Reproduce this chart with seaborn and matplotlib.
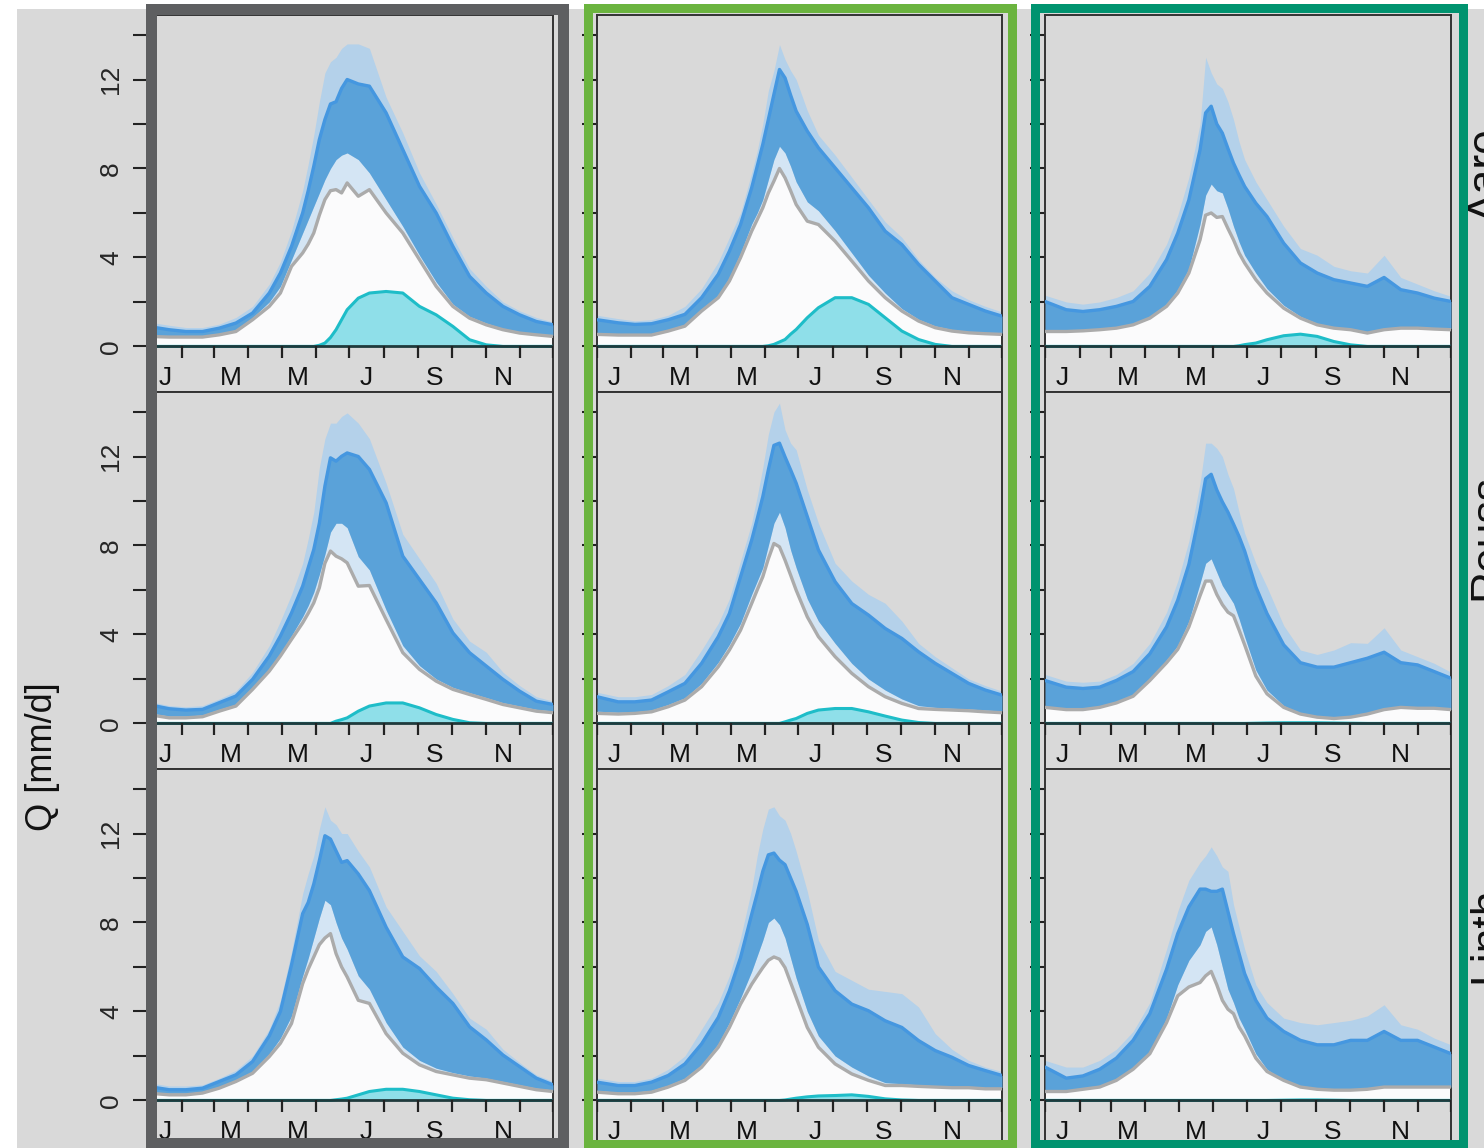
import numpy as np
import pandas as pd
import matplotlib
matplotlib.use("Agg")
import matplotlib.pyplot as plt
from matplotlib.patches import Rectangle
import seaborn as sns

# day of year grid shared by all panels
days = [1, 20, 35, 50, 65, 80, 95, 110, 120, 130, 140, 145, 150, 155, 160, 165,
        170, 175, 180, 190, 200, 215, 230, 245, 260, 275, 290, 305, 320, 335, 350, 365]

month_starts = [1, 32, 60, 91, 121, 152, 182, 213, 244, 274, 305, 335, 365]
month_mid = [16, 75, 136, 197, 259, 320]
month_labels = ["J", "M", "M", "J", "S", "N"]
rivers = ["Aare", "Reuss", "Linth"]
y_ticks = [0, 2, 4, 6, 8, 10, 12, 14]
y_ticklabels = ["0", "", "4", "", "8", "", "12", ""]

# ---- Aare ----
aare1_top = [0.9, 0.75, 0.67, 0.67, 0.82, 1.05, 1.5, 2.4, 3.3, 4.5, 6.0, 7.0, 8.1, 9.3, 10.2, 10.9,
             11.0, 11.6, 12.0, 11.8, 11.7, 10.5, 8.85, 7.2, 6.0, 4.5, 3.15, 2.4, 1.8, 1.42, 1.12, 0.97]
aare1_max = [1.1, 0.95, 0.85, 0.85, 1.0, 1.3, 1.8, 2.8, 3.8, 5.2, 7.0, 8.2, 9.5, 11.0, 12.3, 12.8,
             13.0, 13.4, 13.6, 13.6, 13.4, 11.2, 9.6, 7.8, 6.4, 4.9, 3.5, 2.7, 2.0, 1.6, 1.3, 1.1]
aare1_lo = [0.5, 0.47, 0.47, 0.47, 0.57, 0.75, 1.3, 2.0, 2.7, 3.9, 5.1, 5.7, 6.3, 6.9, 7.5, 8.0,
            8.4, 8.6, 8.7, 8.4, 7.8, 6.6, 5.4, 4.1, 2.9, 1.9, 1.35, 1.05, 0.8, 0.65, 0.57, 0.5]
aare1_base = [0.45, 0.42, 0.42, 0.42, 0.52, 0.67, 1.2, 1.8, 2.4, 3.6, 4.2, 4.6, 5.1, 5.9, 6.6, 7.0,
              7.05, 6.9, 7.35, 6.75, 7.05, 6.0, 5.1, 3.9, 2.7, 1.8, 1.27, 0.97, 0.75, 0.6, 0.52, 0.45]
aare1_glac = [0, 0, 0, 0, 0, 0, 0, 0, 0, 0, 0, 0, 0, 0.05, 0.15, 0.4,
              0.75, 1.2, 1.65, 2.17, 2.4, 2.47, 2.4, 1.8, 1.42, 0.9, 0.3, 0.07, 0, 0, 0, 0]

aare2_top = [1.2, 1.06, 0.99, 1.02, 1.2, 1.44, 2.19, 3.24, 4.28, 5.48, 7.13, 8.1, 9.08, 10.2, 11.33, 12.45,
             12.07, 11.3, 10.58, 9.68, 8.93, 8.03, 7.13, 6.23, 5.18, 4.58, 3.69, 2.94, 2.19, 1.89, 1.59, 1.36]
aare2_max = [1.4, 1.25, 1.15, 1.2, 1.4, 1.8, 2.6, 3.8, 4.9, 6.0, 7.8, 8.8, 10.0, 11.5, 12.4, 13.57,
             12.9, 12.4, 12.0, 10.6, 9.5, 8.6, 7.6, 6.6, 5.6, 4.9, 3.9, 3.1, 2.5, 2.1, 1.8, 1.55]
aare2_lo = [0.6, 0.57, 0.57, 0.57, 0.75, 0.98, 1.67, 2.3, 3.1, 4.2, 5.5, 6.0, 6.6, 7.5, 8.4, 9.0,
            8.7, 8.1, 7.4, 6.5, 6.1, 5.2, 4.2, 3.2, 2.4, 1.7, 1.22, 0.92, 0.76, 0.67, 0.63, 0.6]
aare2_base = [0.54, 0.51, 0.51, 0.51, 0.69, 0.91, 1.59, 2.19, 2.94, 3.99, 5.18, 5.7, 6.23, 6.9, 7.43, 8.0,
              7.58, 7.0, 6.38, 5.63, 5.48, 4.73, 3.84, 2.94, 2.19, 1.59, 1.14, 0.84, 0.69, 0.61, 0.57, 0.54]
aare2_glac = [0, 0, 0, 0, 0, 0, 0, 0, 0, 0, 0, 0, 0, 0.03, 0.09, 0.2,
              0.31, 0.55, 0.76, 1.29, 1.74, 2.19, 2.19, 1.89, 1.29, 0.69, 0.31, 0.09, 0, 0, 0, 0]

aare3_top = [2.02, 1.65, 1.57, 1.65, 1.8, 2.02, 2.7, 3.9, 5.09, 6.59, 8.84, 10.5, 10.8, 10.0, 9.59, 8.9,
             8.24, 7.7, 7.19, 6.44, 5.84, 4.64, 3.75, 3.3, 3.0, 2.85, 2.7, 3.1, 2.55, 2.4, 2.17, 2.02]
aare3_max = [2.3, 2.0, 1.9, 2.0, 2.2, 2.5, 3.3, 4.6, 5.9, 7.6, 10.0, 13.0, 12.3, 11.8, 11.6, 11.0,
             10.2, 9.2, 8.4, 7.4, 6.6, 5.4, 4.4, 4.1, 3.6, 3.4, 3.3, 4.1, 3.1, 2.8, 2.5, 2.25]
aare3_lo = [0.72, 0.72, 0.75, 0.8, 0.87, 1.02, 1.35, 1.9, 2.55, 3.5, 5.5, 6.8, 7.3, 7.0, 6.9, 6.2,
            5.4, 4.7, 4.1, 3.3, 2.6, 1.85, 1.35, 1.03, 0.87, 0.8, 0.65, 0.8, 0.87, 0.87, 0.83, 0.8]
aare3_base = [0.67, 0.67, 0.7, 0.75, 0.82, 0.97, 1.27, 1.8, 2.4, 3.3, 4.79, 5.9, 6.0, 5.8, 5.84, 5.3,
              4.79, 4.2, 3.75, 3.0, 2.4, 1.72, 1.27, 0.97, 0.82, 0.75, 0.6, 0.75, 0.82, 0.82, 0.78, 0.75]
aare3_glac = [0, 0, 0, 0, 0, 0, 0, 0, 0, 0, 0, 0, 0, 0, 0, 0,
              0, 0.03, 0.08, 0.15, 0.3, 0.48, 0.55, 0.45, 0.22, 0.07, 0, 0, 0, 0, 0, 0]

# ---- Reuss ----
reuss1_top = [0.85, 0.66, 0.6, 0.63, 0.93, 1.23, 1.98, 3.03, 3.93, 4.97, 6.17, 7.0, 7.82, 9.0, 10.67, 11.94,
              11.79, 12.01, 12.16, 12.0, 11.42, 9.92, 7.52, 6.47, 5.42, 4.07, 3.18, 2.58, 1.98, 1.45, 1.0, 0.85]
reuss1_max = [1.0, 0.8, 0.75, 0.8, 1.1, 1.45, 2.3, 3.5, 4.6, 5.8, 7.2, 8.3, 9.5, 11.5, 12.8, 13.5,
              13.5, 13.8, 13.96, 13.5, 12.8, 10.8, 8.5, 7.4, 6.3, 4.7, 3.7, 3.2, 2.3, 1.7, 1.2, 1.0]
reuss1_lo = [0.48, 0.33, 0.33, 0.38, 0.63, 0.86, 1.62, 2.45, 3.15, 3.95, 4.8, 5.3, 5.9, 6.7, 7.6, 8.6,
             9.0, 9.0, 8.8, 7.5, 6.9, 5.1, 3.5, 2.6, 2.0, 1.62, 1.38, 1.16, 0.93, 0.78, 0.63, 0.56]
reuss1_base = [0.4, 0.25, 0.25, 0.3, 0.55, 0.78, 1.53, 2.35, 3.03, 3.78, 4.52, 4.95, 5.42, 6.1, 7.2, 7.75,
               7.52, 7.4, 7.22, 6.17, 6.2, 4.67, 3.18, 2.43, 1.9, 1.53, 1.3, 1.08, 0.85, 0.7, 0.55, 0.48]
reuss1_glac = [0, 0, 0, 0, 0, 0, 0, 0, 0, 0, 0, 0, 0, 0, 0, 0,
               0.1, 0.17, 0.25, 0.55, 0.78, 0.92, 0.92, 0.7, 0.4, 0.18, 0.03, 0, 0, 0, 0, 0]

reuss2_top = [1.2, 0.97, 0.97, 1.05, 1.42, 1.8, 2.7, 3.9, 4.94, 6.59, 8.24, 9.2, 10.19, 11.4, 12.5, 12.6,
              11.98, 11.4, 10.8, 9.3, 7.8, 6.37, 5.39, 4.87, 4.27, 3.82, 3.22, 2.7, 2.25, 1.8, 1.5, 1.27]
reuss2_max = [1.4, 1.2, 1.2, 1.3, 1.7, 2.2, 3.3, 4.5, 5.6, 7.3, 9.0, 10.2, 11.5, 13.0, 14.0, 14.4,
              13.2, 12.6, 12.3, 10.5, 9.0, 7.2, 6.4, 5.8, 5.4, 4.6, 3.6, 3.0, 2.5, 2.0, 1.7, 1.45]
reuss2_lo = [0.55, 0.5, 0.52, 0.6, 0.85, 1.15, 1.8, 2.75, 3.55, 4.5, 5.8, 6.4, 7.0, 8.0, 9.0, 9.5,
             8.8, 7.8, 7.0, 5.6, 4.6, 3.6, 2.7, 2.0, 1.5, 1.1, 0.8, 0.72, 0.68, 0.65, 0.6, 0.56]
reuss2_base = [0.45, 0.42, 0.45, 0.52, 0.75, 1.05, 1.65, 2.55, 3.3, 4.19, 5.39, 6.0, 6.59, 7.4, 8.09, 7.94,
               7.34, 6.67, 5.99, 4.79, 3.9, 3.0, 2.25, 1.65, 1.2, 0.9, 0.67, 0.63, 0.6, 0.57, 0.52, 0.48]
reuss2_glac = [0, 0, 0, 0, 0, 0, 0, 0, 0, 0, 0, 0, 0, 0, 0, 0,
               0.07, 0.15, 0.22, 0.45, 0.6, 0.67, 0.67, 0.52, 0.33, 0.15, 0.04, 0, 0, 0, 0, 0]

reuss3_top = [1.93, 1.63, 1.57, 1.63, 1.93, 2.33, 3.13, 4.34, 5.54, 7.15, 9.56, 11.0, 11.2, 10.5, 9.96, 9.5,
              8.96, 8.4, 7.75, 6.14, 4.94, 3.53, 2.73, 2.53, 2.53, 2.73, 2.93, 3.2, 2.73, 2.63, 2.33, 2.03]
reuss3_max = [2.2, 1.9, 1.85, 1.9, 2.2, 2.7, 3.6, 5.0, 6.4, 8.2, 10.8, 12.6, 12.6, 12.37, 12.0, 11.2,
              10.56, 9.5, 8.55, 7.2, 6.14, 4.4, 3.3, 3.1, 3.3, 3.63, 3.6, 4.3, 3.3, 3.0, 2.7, 2.3]
reuss3_lo = [0.72, 0.62, 0.62, 0.72, 0.92, 1.25, 2.0, 2.85, 3.5, 4.6, 6.3, 7.2, 7.4, 6.8, 6.2, 5.8,
             5.4, 4.7, 3.9, 2.4, 1.5, 0.8, 0.42, 0.28, 0.22, 0.28, 0.42, 0.62, 0.72, 0.68, 0.68, 0.62]
reuss3_base = [0.72, 0.62, 0.62, 0.72, 0.92, 1.22, 1.93, 2.73, 3.33, 4.34, 5.74, 6.4, 6.4, 5.8, 5.34, 5.0,
               4.84, 4.2, 3.53, 2.13, 1.33, 0.72, 0.42, 0.28, 0.22, 0.28, 0.42, 0.62, 0.72, 0.68, 0.68, 0.62]
reuss3_glac = [0, 0, 0, 0, 0, 0, 0, 0, 0, 0, 0, 0, 0, 0, 0, 0,
               0, 0, 0, 0.01, 0.02, 0.03, 0.03, 0.03, 0.02, 0.01, 0, 0, 0, 0, 0, 0]

# ---- Linth ----
linth1_top = [0.63, 0.48, 0.48, 0.55, 0.85, 1.15, 1.75, 2.9, 4.0, 6.1, 8.4, 8.9, 9.73, 10.78, 11.9, 11.75,
              11.22, 10.7, 10.78, 10.18, 9.43, 7.79, 6.45, 5.93, 5.1, 4.36, 3.31, 2.72, 2.04, 1.52, 1.0, 0.7]
linth1_max = [0.8, 0.65, 0.65, 0.7, 1.0, 1.35, 2.0, 3.2, 4.5, 6.7, 9.3, 10.2, 11.0, 12.2, 13.2, 12.6,
              12.4, 12.0, 12.0, 11.2, 10.5, 8.7, 7.6, 6.5, 5.8, 4.8, 3.7, 3.2, 2.3, 1.7, 1.15, 0.85]
linth1_lo = [0.4, 0.32, 0.32, 0.4, 0.62, 0.92, 1.3, 2.1, 2.8, 3.8, 5.6, 6.4, 7.3, 8.2, 9.0, 8.8,
             8.0, 7.3, 6.8, 5.6, 5.0, 3.5, 2.4, 1.8, 1.45, 1.25, 1.1, 1.0, 0.85, 0.7, 0.55, 0.47]
linth1_base = [0.33, 0.25, 0.25, 0.33, 0.55, 0.85, 1.22, 1.97, 2.57, 3.46, 5.25, 5.9, 6.45, 7.0, 7.3, 7.5,
               6.6, 6.0, 5.55, 4.5, 4.36, 3.0, 2.12, 1.6, 1.3, 1.15, 1.0, 0.93, 0.78, 0.63, 0.48, 0.4]
linth1_glac = [0, 0, 0, 0, 0, 0, 0, 0, 0, 0, 0, 0, 0, 0, 0, 0,
               0.03, 0.06, 0.1, 0.25, 0.4, 0.5, 0.5, 0.4, 0.25, 0.1, 0.03, 0, 0, 0, 0, 0]

linth2_top = [0.82, 0.67, 0.67, 0.82, 1.12, 1.64, 2.54, 3.73, 4.93, 6.42, 8.36, 9.3, 10.3, 11.04, 11.12, 10.8,
              10.6, 10.0, 9.4, 7.91, 6.0, 4.93, 4.33, 4.03, 3.58, 3.28, 2.69, 2.24, 1.94, 1.57, 1.34, 1.12]
linth2_max = [1.0, 0.85, 0.85, 1.0, 1.4, 2.0, 3.2, 4.4, 5.6, 7.3, 9.5, 11.0, 12.2, 13.1, 13.2, 12.8,
              12.6, 12.0, 11.2, 9.4, 7.2, 5.8, 5.4, 5.0, 4.9, 4.8, 4.2, 3.0, 2.3, 1.8, 1.5, 1.3]
linth2_lo = [0.45, 0.37, 0.37, 0.45, 0.68, 1.0, 1.6, 2.55, 3.5, 4.6, 5.8, 6.5, 7.2, 8.0, 8.2, 7.9,
             7.3, 6.4, 5.5, 4.0, 2.9, 2.0, 1.5, 1.1, 0.8, 0.75, 0.7, 0.66, 0.63, 0.62, 0.58, 0.58]
linth2_base = [0.37, 0.3, 0.3, 0.37, 0.6, 0.9, 1.49, 2.39, 3.28, 4.33, 5.22, 5.6, 5.97, 6.3, 6.45, 6.35,
               5.97, 5.3, 4.63, 3.28, 2.39, 1.64, 1.19, 0.9, 0.67, 0.67, 0.63, 0.6, 0.57, 0.57, 0.52, 0.52]
linth2_glac = [0, 0, 0, 0, 0, 0, 0, 0, 0, 0, 0, 0, 0, 0, 0, 0,
               0.02, 0.06, 0.1, 0.16, 0.2, 0.22, 0.25, 0.18, 0.07, 0.02, 0, 0, 0, 0, 0, 0]

linth3_top = [1.5, 1.0, 1.1, 1.4, 1.9, 2.7, 3.9, 5.9, 7.5, 8.7, 9.5, 9.5, 9.4, 9.4, 9.5, 8.5,
              7.5, 6.6, 5.7, 4.5, 3.7, 3.1, 2.7, 2.5, 2.5, 2.7, 2.7, 3.1, 2.7, 2.7, 2.4, 2.1]
linth3_max = [1.8, 1.5, 1.5, 1.8, 2.3, 3.1, 4.4, 6.8, 8.5, 9.9, 10.7, 11.0, 11.4, 11.0, 10.5, 10.3,
              8.8, 7.8, 6.8, 5.2, 4.4, 3.7, 3.5, 3.4, 3.5, 3.6, 3.8, 4.3, 3.4, 3.2, 2.8, 2.5]
linth3_lo = [0.4, 0.4, 0.5, 0.6, 0.9, 1.45, 2.2, 3.7, 5.2, 6.3, 7.0, 7.6, 7.8, 7.0, 6.0, 5.0,
             4.4, 3.7, 3.2, 2.1, 1.4, 0.9, 0.6, 0.5, 0.46, 0.46, 0.5, 0.6, 0.6, 0.6, 0.6, 0.6]
linth3_base = [0.4, 0.4, 0.5, 0.6, 0.9, 1.4, 2.1, 3.5, 4.7, 5.1, 5.3, 5.6, 5.8, 5.2, 4.5, 4.1,
               3.9, 3.3, 2.9, 1.9, 1.3, 0.9, 0.6, 0.5, 0.46, 0.46, 0.5, 0.6, 0.6, 0.6, 0.6, 0.6]
linth3_glac = [0, 0, 0, 0, 0, 0, 0, 0, 0, 0, 0, 0, 0, 0, 0, 0,
               0, 0, 0, 0, 0, 0.01, 0.02, 0.02, 0.01, 0, 0, 0, 0, 0, 0, 0]

panels = {
    (0, 0): (aare1_top, aare1_max, aare1_lo, aare1_base, aare1_glac),
    (0, 1): (aare2_top, aare2_max, aare2_lo, aare2_base, aare2_glac),
    (0, 2): (aare3_top, aare3_max, aare3_lo, aare3_base, aare3_glac),
    (1, 0): (reuss1_top, reuss1_max, reuss1_lo, reuss1_base, reuss1_glac),
    (1, 1): (reuss2_top, reuss2_max, reuss2_lo, reuss2_base, reuss2_glac),
    (1, 2): (reuss3_top, reuss3_max, reuss3_lo, reuss3_base, reuss3_glac),
    (2, 0): (linth1_top, linth1_max, linth1_lo, linth1_base, linth1_glac),
    (2, 1): (linth2_top, linth2_max, linth2_lo, linth2_base, linth2_glac),
    (2, 2): (linth3_top, linth3_max, linth3_lo, linth3_base, linth3_glac),
}

sns.set_theme(style="white")
plt.rcParams["font.family"] = ["Liberation Sans", "DejaVu Sans"]

W, H = 1484, 1148
fig = plt.figure(figsize=(W / 100, H / 100), dpi=100)
fig.patch.set_facecolor("white")

BG = "#d9d9d9"
fig.patches.append(Rectangle((17 / W, 0), 1, 1 - 9 / H, transform=fig.transFigure,
                             facecolor=BG, edgecolor="none", zorder=-10))

col_left = [148, 597, 1045]
col_width = [405, 405, 406]
row_top = [15, 392, 769]
row_h = 377


def draw_panel(ax, top, top_max, band_lo, base, glac):
    x = np.array(days)
    df = pd.DataFrame({"day": x, "top": top, "base": base, "glac": glac})
    ax.fill_between(x, base, top_max, color="#b4d1ea", lw=0, zorder=1)
    ax.fill_between(x, 0, base, color="#fbfbfc", lw=0, zorder=2)
    ax.fill_between(x, base, band_lo, color="#d4e5f4", lw=0, zorder=2)
    ax.fill_between(x, band_lo, top, color="#5aa2d9", lw=0, zorder=3)
    sns.lineplot(data=df, x="day", y="top", ax=ax, color="#4597e0", lw=2.4, zorder=4)
    sns.lineplot(data=df, x="day", y="base", ax=ax, color="#ababab", lw=2.4, zorder=4)
    ax.fill_between(x, 0, glac, color="#8fdfe9", lw=0, zorder=5)
    sns.lineplot(data=df, x="day", y="glac", ax=ax, color="#1ebdc8", lw=2.2, zorder=6)


for (r, c), series in panels.items():
    l, w, t = col_left[c], col_width[c], row_top[r]
    ax = fig.add_axes([l / W, 1 - (t + row_h) / H, w / W, row_h / H])
    ax.set_facecolor(BG)
    draw_panel(ax, *series)
    ax.axhline(0, color="#1f3a3c", lw=2, zorder=7)
    ax.vlines(month_starts, -0.52, 0, color="#222222", lw=1.6, zorder=7)
    for d, lab in zip(month_mid, month_labels):
        ax.text(d, -1.4, lab, ha="center", va="center", fontsize=19, color="#111111")
    ax.set_xlim(1, 365)
    ax.set_ylim(-2.05, 14.9)
    ax.set_xticks([])
    ax.set_yticks(y_ticks)
    if c == 0:
        ax.set_yticklabels(y_ticklabels, rotation=90, va="center")
    else:
        ax.set_yticklabels([])
    ax.tick_params(axis="y", direction="out", length=11, width=1.5, pad=7,
                   labelsize=19, color="#222222", left=True)
    ax.set_xlabel("")
    ax.set_ylabel("")
    for s in ax.spines.values():
        s.set_visible(True)
        s.set_color("#333333")
        s.set_linewidth(1.4)

# coloured column frames
frames = [((150.5, 8.5), 412, 1134.5, "#5e5f61", 11),
          ((587.5, 7.5), 424, 1136, "#6bb43f", 9),
          ((1034.5, 7.5), 428, 1136, "#00936f", 9)]
for (x0, y0), fw, fh, col, lw in frames:
    fig.patches.append(Rectangle((x0 / W, 1 - (y0 + fh) / H), fw / W, fh / H,
                                 transform=fig.transFigure, fill=False,
                                 edgecolor=col, lw=lw * 0.72, zorder=5))

fig.text(42 / W, 1 - 757 / H, "Q [mm/d]", rotation=90, ha="center", va="center",
         fontsize=26, color="#111111")
# river names sit at the right edge and are partly cut off, as in the source figure
for name, yc in zip(rivers, [175, 537, 935]):
    fig.text(1467 / W, 1 - yc / H, name, rotation=90, ha="left", va="center",
             fontsize=32, color="#111111")

fig.savefig("out.png", dpi=100, facecolor=fig.get_facecolor())
